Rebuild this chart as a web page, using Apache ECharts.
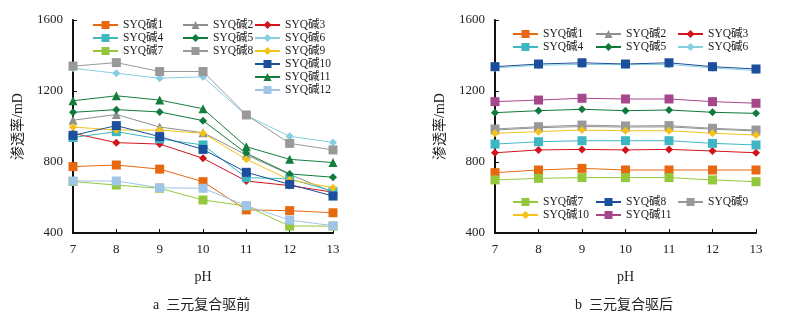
<!DOCTYPE html>
<html>
<head>
<meta charset="utf-8">
<script src="https://cdn.jsdelivr.net/npm/echarts@6/dist/echarts.min.js"></script>
<style>
html,body{margin:0;padding:0;background:#fff}
#a{position:absolute;left:0;top:0;width:400px;height:330px}
#b{position:absolute;left:400px;top:0;width:394px;height:330px}
</style>
</head>
<body>
<div id="a"></div>
<div id="b"></div>
<script>
const phTicks = ['7', '8', '9', '10', '11', '12', '13']

// a 三元复合驱前
const before1 = [774, 783, 760, 689, 530, 526, 514]
const before2 = [1035, 1068, 997, 965, 840, 730, 630]
const before3 = [962, 909, 901, 821, 693, 667, 630]
const before4 = [938, 971, 930, 896, 712, 705, 635]
const before5 = [1080, 1095, 1082, 1033, 849, 733, 714]
const before6 = [1328, 1300, 1272, 1280, 1062, 945, 910]
const before7 = [690, 670, 652, 586, 552, 439, 439]
const before8 = [1340, 1360, 1310, 1310, 1065, 905, 868]
const before9 = [997, 980, 980, 962, 815, 700, 655]
const before10 = [950, 1005, 943, 871, 742, 674, 608]
const before11 = [1145, 1173, 1149, 1100, 886, 815, 797]
const before12 = [693, 693, 655, 652, 554, 473, 441]

// b 三元复合驱后
const after1 = [740, 755, 764, 755, 755, 755, 755]
const after2 = [980, 993, 1000, 997, 998, 985, 975]
const after3 = [852, 868, 871, 868, 871, 862, 852]
const after4 = [901, 914, 920, 920, 920, 905, 896]
const after5 = [1078, 1089, 1097, 1089, 1093, 1080, 1074]
const after6 = [1330, 1345, 1350, 1348, 1350, 1330, 1315]
const after7 = [699, 708, 712, 712, 712, 699, 689]
const after8 = [1337, 1352, 1359, 1352, 1359, 1337, 1324]
const after9 = [986, 999, 1008, 1003, 1005, 990, 980]
const after10 = [962, 971, 980, 976, 976, 962, 952]
const after11 = [1140, 1149, 1159, 1155, 1155, 1140, 1131]

const serif = "'Liberation Serif', 'Noto Sans CJK SC', serif"
const C = {
    orange: '#e8680f', gray: '#8f8f8f', red: '#d3131c', teal: '#3fb7c3',
    green: '#107a3c', cyan: '#86cfe2', lime: '#93c83d', gray2: '#999999',
    yellow: '#f4c21a', navy: '#1b4e9b', green2: '#157e3f', ltblue: '#9fc5e8',
    magenta: '#a6478b'
}

function line(name, data, color, symbol) {
    let size = symbol === 'rect' ? 9 : (symbol === 'triangle' ? 9 : 8)
    return {
        name: name, type: 'line', data: data,
        symbol: symbol, symbolSize: size,
        lineStyle: { color: color, width: 1 },
        itemStyle: { color: color },
        animation: false
    }
}

function legend(names, left, top) {
    return {
        data: names, orient: 'vertical', left: left, top: top,
        itemWidth: 25, itemHeight: 10, itemGap: 1,
        textStyle: { fontFamily: serif, fontSize: 11.5, lineHeight: 12, color: '#222' }
    }
}

function axes(grid) {
    return {
        grid: grid,
        xAxis: {
            type: 'category', data: phTicks, boundaryGap: false,
            name: 'pH', nameLocation: 'middle', nameGap: 37,
            nameTextStyle: { fontFamily: serif, fontSize: 14, color: '#222' },
            axisLine: { lineStyle: { color: '#111', width: 2 } },
            axisTick: { inside: true, length: 4, lineStyle: { color: '#111' } },
            axisLabel: { fontFamily: serif, fontSize: 13, color: '#222', margin: 10 },
            splitLine: { show: false }
        },
        yAxis: {
            type: 'value', min: 400, max: 1600, interval: 400,
            name: '渗透率/mD', nameLocation: 'middle', nameGap: 48,
            nameTextStyle: { fontFamily: serif, fontSize: 14, color: '#222' },
            axisLine: { show: true, lineStyle: { color: '#111', width: 2 } },
            axisTick: { show: true, inside: true, length: 4, lineStyle: { color: '#111' } },
            axisLabel: { fontFamily: serif, fontSize: 13, color: '#222', margin: 10, formatter: v => String(v) },
            splitLine: { show: false }
        }
    }
}

function caption(text, x) {
    return [{
        type: 'text', left: x, top: 298,
        style: { text: text, font: '14px ' + serif, fill: '#222' }
    }]
}

// left chart
let chartA = echarts.init(document.getElementById('a'))
let optA = axes({ left: 73, right: 67, top: 20, bottom: 97 })
optA.legend = [
    legend(['SYQ碱1', 'SYQ碱4', 'SYQ碱7'], 87, 14),
    legend(['SYQ碱2', 'SYQ碱5', 'SYQ碱8'], 177, 14),
    legend(['SYQ碱3', 'SYQ碱6', 'SYQ碱9', 'SYQ碱10', 'SYQ碱11', 'SYQ碱12'], 249, 14)
]
optA.series = [
    line('SYQ碱1', before1, C.orange, 'rect'),
    line('SYQ碱2', before2, C.gray, 'triangle'),
    line('SYQ碱3', before3, C.red, 'diamond'),
    line('SYQ碱4', before4, C.teal, 'rect'),
    line('SYQ碱5', before5, C.green, 'diamond'),
    line('SYQ碱6', before6, C.cyan, 'diamond'),
    line('SYQ碱7', before7, C.lime, 'rect'),
    line('SYQ碱8', before8, C.gray2, 'rect'),
    line('SYQ碱9', before9, C.yellow, 'diamond'),
    line('SYQ碱10', before10, C.navy, 'rect'),
    line('SYQ碱11', before11, C.green2, 'triangle'),
    line('SYQ碱12', before12, C.ltblue, 'rect')
]
optA.graphic = caption('a  三元复合驱前', 153)
chartA.setOption(optA)

// right chart
let chartB = echarts.init(document.getElementById('b'))
let optB = axes({ left: 95, right: 38, top: 20, bottom: 97 })
optB.legend = [
    legend(['SYQ碱1', 'SYQ碱4'], 107, 23),
    legend(['SYQ碱2', 'SYQ碱5'], 190, 23),
    legend(['SYQ碱3', 'SYQ碱6'], 272, 23),
    legend(['SYQ碱7', 'SYQ碱10'], 107, 191),
    legend(['SYQ碱8', 'SYQ碱11'], 190, 191),
    legend(['SYQ碱9'], 272, 191)
]
optB.series = [
    line('SYQ碱1', after1, C.orange, 'rect'),
    line('SYQ碱2', after2, C.gray, 'triangle'),
    line('SYQ碱3', after3, C.red, 'diamond'),
    line('SYQ碱4', after4, C.teal, 'rect'),
    line('SYQ碱5', after5, C.green, 'diamond'),
    line('SYQ碱6', after6, C.cyan, 'diamond'),
    line('SYQ碱7', after7, C.lime, 'rect'),
    line('SYQ碱8', after8, C.navy, 'rect'),
    line('SYQ碱9', after9, C.gray2, 'rect'),
    line('SYQ碱10', after10, C.yellow, 'diamond'),
    line('SYQ碱11', after11, C.magenta, 'rect')
]
optB.graphic = caption('b  三元复合驱后', 175)
chartB.setOption(optB)
</script>
</body>
</html>
